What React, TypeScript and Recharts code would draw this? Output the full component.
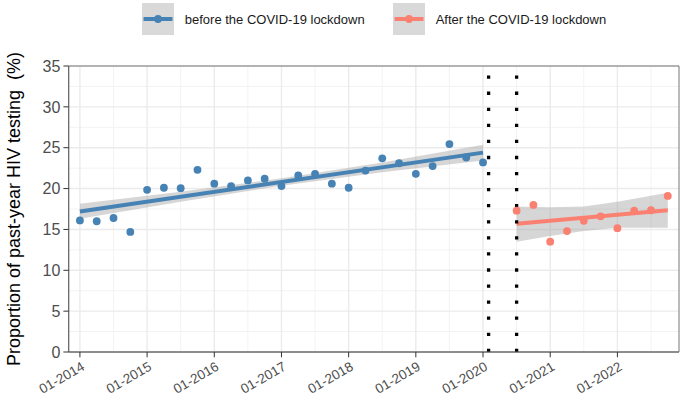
import {
  ComposedChart, Scatter, Line, Area, XAxis, YAxis, CartesianGrid,
  ReferenceLine, ReferenceArea, Legend
} from 'recharts'

// quarters as decimal years
const beforeDates = [
  2014, 2014.25, 2014.5, 2014.75, 2015, 2015.25, 2015.5, 2015.75,
  2016, 2016.25, 2016.5, 2016.75, 2017, 2017.25, 2017.5, 2017.75,
  2018, 2018.25, 2018.5, 2018.75, 2019, 2019.25, 2019.5, 2019.75, 2020,
]
const beforeValues = [
  16.1, 16.0, 16.4, 14.7, 19.85, 20.1, 20.05, 22.3,
  20.6, 20.3, 21.0, 21.2, 20.3, 21.6, 21.8, 20.6,
  20.1, 22.2, 23.7, 23.1, 21.8, 22.75, 25.45, 23.8, 23.2,
]
const afterDates = [2020.5, 2020.75, 2021, 2021.25, 2021.5, 2021.75, 2022, 2022.25, 2022.5, 2022.75]
const afterValues = [17.3, 18.0, 13.5, 14.8, 16.05, 16.6, 15.15, 17.3, 17.35, 19.1]

// fitted lines (ends) and confidence bands
const beforeFitDates = [2014, 2020]
const beforeFit = [17.2, 24.4]
const afterFitDates = [2020.5, 2022.75]
const afterFit = [15.7, 17.35]

const beforeBandDates = [2014, 2015.5, 2017, 2018.5, 2020]
const beforeLow = [16.3, 18.4, 20.35, 22.0, 23.45]
const beforeHigh = [18.15, 19.6, 21.25, 23.2, 25.35]
const afterBandDates = [2020.5, 2021, 2021.5, 2022, 2022.75]
const afterLow = [13.5, 14.2, 14.8, 15.2, 15.2]
const afterHigh = [17.8, 17.7, 17.8, 18.4, 19.5]

const lockdownLines = [2020.083, 2020.5]

const xTicks = [2014, 2015, 2016, 2017, 2018, 2019, 2020, 2021, 2022]
const xMinor = [2014.5, 2015.5, 2016.5, 2017.5, 2018.5, 2019.5, 2020.5, 2021.5, 2022.5]
const yTicks = [0, 5, 10, 15, 20, 25, 30, 35]
const yMinor = [2.5, 7.5, 12.5, 17.5, 22.5, 27.5, 32.5]

const legendItems = [
  { label: 'before the COVID-19 lockdown', color: '#4682B4' },
  { label: 'After the COVID-19 lockdown', color: '#FA8072' },
]

const FONT = '"Liberation Sans", Arial, sans-serif'
const X_MIN = 2013.833
const X_MAX = 2022.917

const pts = (ts: number[], vs: number[]) => ts.map((t, i) => ({ t, v: vs[i] }))
const band = (ts: number[], lo: number[], hi: number[]) => ts.map((t, i) => ({ t, range: [lo[i], hi[i]] }))

const dot = (color: string) => (p: any) => <circle cx={p.cx} cy={p.cy} r={3.9} fill={color} />

const XTick = ({ x, y, payload }: any) => (
  <text
    x={x + 5.5}
    y={y + 10}
    transform={`rotate(-30 ${x + 5.5} ${y + 10})`}
    textAnchor="end"
    fontSize={13.5}
    fontFamily={FONT}
    fill="#4d4d4d"
  >
    {`01-${payload.value}`}
  </text>
)

const LegendBox = () => (
  <div style={{ display: 'flex', justifyContent: 'center', paddingLeft: 63, height: 36, alignItems: 'center', fontFamily: FONT }}>
    {legendItems.map((it, i) => (
      <div key={it.label} style={{ display: 'flex', alignItems: 'center', marginLeft: i ? 28 : 0 }}>
        <svg width={32} height={32}>
          <rect width={32} height={32} fill="#d9d9d9" />
          <line x1={1.5} x2={30.5} y1={16} y2={16} stroke={it.color} strokeWidth={4} />
          <circle cx={16} cy={16} r={3.9} fill={it.color} />
        </svg>
        <span style={{ marginLeft: 11, fontSize: 13, color: '#1a1a1a' }}>{it.label}</span>
      </div>
    ))}
  </div>
)

export default function App() {
  return (
    <div style={{ position: 'absolute', left: 0, top: 0, width: 685, height: 400, background: '#fff' }}>
      <ComposedChart width={685} height={400} margin={{ top: 30, right: 6, left: 0, bottom: 0 }}>
        <Legend verticalAlign="top" height={36} content={<LegendBox />} wrapperStyle={{ top: 1, left: 0, width: 685 }} />
        <CartesianGrid horizontalValues={yMinor} verticalValues={xMinor} stroke="#f3f3f3" strokeWidth={1} />
        <CartesianGrid horizontalValues={yTicks} verticalValues={xTicks} stroke="#ebebeb" strokeWidth={1.4} />
        <XAxis
          type="number"
          dataKey="t"
          domain={[X_MIN, X_MAX]}
          allowDataOverflow
          ticks={xTicks}
          tick={<XTick />}
          tickSize={5.3}
          height={48}
          axisLine={{ stroke: '#666' }}
          tickLine={{ stroke: '#333' }}
        />
        <YAxis
          type="number"
          domain={[0, 35]}
          ticks={yTicks}
          width={68.7}
          tickSize={5.3}
          tickMargin={3}
          tick={{ fontSize: 16, fill: '#4d4d4d', fontFamily: FONT }}
          axisLine={{ stroke: '#666' }}
          tickLine={{ stroke: '#333' }}
          label={{
            value: 'Proportion of past-year HIV testing \u00a0(%)',
            angle: -90,
            position: 'insideLeft',
            offset: 14,
            style: { textAnchor: 'middle', fontSize: 18, fill: '#000', fontFamily: FONT },
          }}
        />
        <Scatter data={pts(beforeDates, beforeValues)} dataKey="v" shape={dot('#4682B4')} isAnimationActive={false} />
        <Scatter data={pts(afterDates, afterValues)} dataKey="v" shape={dot('#FA8072')} isAnimationActive={false} />
        <Area data={band(beforeBandDates, beforeLow, beforeHigh)} dataKey="range" type="linear" stroke="none" fill="#999" fillOpacity={0.4} isAnimationActive={false} activeDot={false} />
        <Area data={band(afterBandDates, afterLow, afterHigh)} dataKey="range" type="linear" stroke="none" fill="#999" fillOpacity={0.4} isAnimationActive={false} activeDot={false} />
        <Line data={pts(beforeFitDates, beforeFit)} dataKey="v" stroke="#4682B4" strokeWidth={4} dot={false} activeDot={false} isAnimationActive={false} />
        <Line data={pts(afterFitDates, afterFit)} dataKey="v" stroke="#FA8072" strokeWidth={4} dot={false} activeDot={false} isAnimationActive={false} />
        {lockdownLines.map(x => (
          <ReferenceLine key={x} x={x} stroke="#000" strokeWidth={3.3} strokeDasharray="3.3 12.77" />
        ))}
        <ReferenceArea x1={X_MIN} x2={X_MAX} y1={0} y2={35} fill="none" stroke="#777" strokeWidth={1} />
      </ComposedChart>
    </div>
  )
}
